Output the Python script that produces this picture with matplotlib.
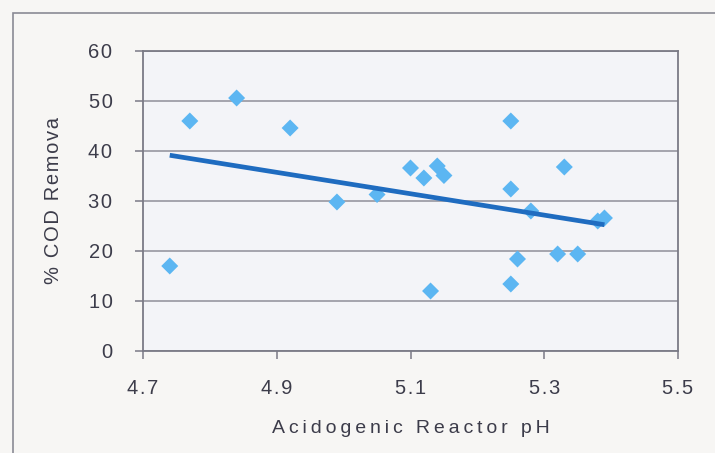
import numpy as np
import matplotlib
matplotlib.use("Agg")
import matplotlib.pyplot as plt
from matplotlib.patches import Rectangle

# reactor pH vs % COD removal
ph = [4.74, 4.77, 4.84, 4.92, 4.99, 5.05, 5.10, 5.12, 5.14, 5.15, 5.13,
      5.25, 5.25, 5.25, 5.26, 5.28, 5.32, 5.33, 5.35, 5.38, 5.39]
cod = [17.0, 46.0, 50.6, 44.6, 29.8, 31.3, 36.6, 34.6, 37.0, 35.1, 12.0,
       46.0, 32.4, 13.4, 18.4, 28.0, 19.4, 36.8, 19.4, 26.0, 26.6]

xticks = [4.7, 4.9, 5.1, 5.3, 5.5]
yticks = [0, 10, 20, 30, 40, 50, 60]

txt = "#3c3c4a"
plt.rcParams['font.family'] = ['Liberation Sans', 'DejaVu Sans']

def spaced(s, sp="\u2009"):
    # the original has wide letter spacing
    return sp.join(s)

fig = plt.figure(figsize=(7.15, 4.53), dpi=100)
fig.patch.set_facecolor("#f7f6f4")
# outer chart border
fig.patches.append(Rectangle((13/715, -0.1), 1.2, (453-13)/453 + 0.1,
                             transform=fig.transFigure, fill=False,
                             edgecolor="#8a8a94", lw=1.2))

ax = fig.add_axes([143/715, 102/453, 535/715, 300/453])
ax.set_facecolor("#f3f4f8")

ax.set_xlim(4.7, 5.5)
ax.set_ylim(0, 60)
ax.set_xticks(xticks)
ax.set_yticks(yticks)
ax.set_xticklabels([spaced(str(v), "\u200a") for v in xticks])
ax.set_yticklabels([spaced(str(v), "\u200a") for v in yticks])
ax.yaxis.grid(True, color="#8f8f9a", lw=1.1)
ax.set_axisbelow(True)

for s in ax.spines.values():
    s.set_color("#7a7a86")
    s.set_linewidth(1.3)

ax.tick_params(axis='both', direction='out', length=6, width=1.1,
               color="#7a7a86", labelcolor=txt, labelsize=14.5)
ax.tick_params(axis='x', pad=14)
ax.tick_params(axis='y', pad=16)

ax.scatter(ph, cod, marker='D', s=75, color="#5cb6f2", edgecolors='none',
           zorder=3)

# linear trendline
k, b = np.polyfit(ph, cod, 1)
xs = np.array([min(ph), max(ph)])
ax.plot(xs, k*xs + b, color="#1f6cc0", lw=3.4, solid_capstyle='butt', zorder=4)

ax.set_xlabel(spaced("Acidogenic Reactor pH"), fontsize=14, color=txt, labelpad=16)
ax.set_ylabel(spaced("% COD Remova", "\u200a"), fontsize=14.5, color=txt, labelpad=18)

fig.savefig("out.png", dpi=100, facecolor=fig.get_facecolor())
